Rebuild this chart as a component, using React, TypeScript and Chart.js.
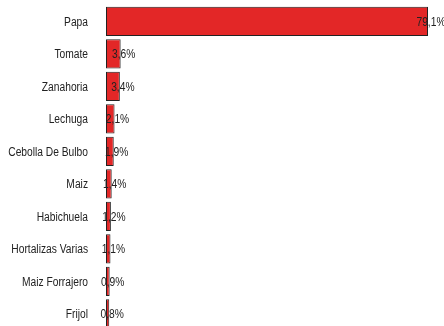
import React, { useEffect, useRef } from "react";
import { Chart, registerables } from "chart.js";

Chart.register(...registerables);

const categories = [
  "Papa",
  "Tomate",
  "Zanahoria",
  "Lechuga",
  "Cebolla De Bulbo",
  "Maiz",
  "Habichuela",
  "Hortalizas Varias",
  "Maiz Forrajero",
  "Frijol",
];
const shares = [79.1, 3.6, 3.4, 2.1, 1.9, 1.4, 1.2, 1.1, 0.9, 0.8];

const FONT = "'Liberation Sans', Arial, sans-serif";
const SQUEEZE = 0.82;

function narrowText(ctx: CanvasRenderingContext2D, txt: string, x: number, y: number, align: CanvasTextAlign) {
  ctx.save();
  ctx.translate(x, y);
  ctx.scale(SQUEEZE, 1);
  ctx.textAlign = align;
  ctx.fillText(txt, 0, 0);
  ctx.restore();
}

const narrowLabels = {
  id: "narrowLabels",
  afterDatasetsDraw(chart: any) {
    const ctx = chart.ctx;
    const meta = chart.getDatasetMeta(0);
    const yScale = chart.scales.y;
    ctx.save();
    ctx.font = `12.5px ${FONT}`;
    ctx.fillStyle = "#222222";
    ctx.textBaseline = "middle";
    categories.forEach((c, i) => {
      const y = yScale.getPixelForTick(i);
      narrowText(ctx, c, yScale.right - 18, y + 1, "right");
    });
    meta.data.forEach((bar: any, i: number) => {
      const txt = shares[i].toFixed(1).replace(".", ",") + "%";
      narrowText(ctx, txt, bar.x + 3, bar.y + 1, "center");
    });
    ctx.restore();
  },
};

export default function App() {
  const ref = useRef<HTMLCanvasElement | null>(null);
  useEffect(() => {
    if (!ref.current) return;
    const chart = new Chart(ref.current, {
      type: "bar",
      data: {
        labels: categories,
        datasets: [
          {
            data: shares,
            backgroundColor: "#e32727",
            borderColor: "#222222",
            borderWidth: 1,
            borderSkipped: false,
            categoryPercentage: 0.9,
            barPercentage: 1,
          },
        ],
      },
      options: {
        indexAxis: "y",
        responsive: false,
        animation: false,
        layout: { padding: { top: 5, right: 16, bottom: 6, left: 0 } },
        plugins: {
          legend: { display: false },
          tooltip: { enabled: false },
        },
        scales: {
          x: { display: false, min: 0, max: 79.1 },
          y: {
            grid: { display: false, drawTicks: false },
            border: { display: false },
            ticks: { display: false, padding: 0 },
            afterFit: (scale: any) => {
              scale.width = 106;
              scale.paddingTop = 0;
              scale.paddingBottom = 0;
            },
          },
        },
      },
      plugins: [narrowLabels],
    });
    return () => chart.destroy();
  }, []);
  return (
    <div
      style={{
        position: "fixed",
        top: 0,
        left: 0,
        width: 444,
        height: 326,
        overflow: "hidden",
        background: "#ffffff",
      }}
    >
      <canvas ref={ref} width={444} height={336} style={{ display: "block" }} />
    </div>
  );
}
